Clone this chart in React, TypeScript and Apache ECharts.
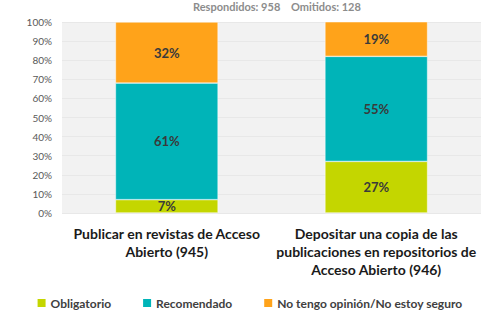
import React, { useEffect, useRef } from "react";
import * as echarts from "echarts";

const categories = [
  "Publicar en revistas de Acceso\nAbierto (945)",
  "Depositar una copia de las\npublicaciones en repositorios de\nAcceso Abierto (946)",
];
const obligatorio = [7, 27];
const recomendado = [61, 55];
const noTengo = [32, 19];
const yTicks = [0, 10, 20, 30, 40, 50, 60, 70, 80, 90, 100];

const FONT = "Lato, 'Open Sans', sans-serif";

export default function App() {
  const ref = useRef<HTMLDivElement>(null);
  useEffect(() => {
    const chart = echarts.init(ref.current!, null, { renderer: "svg" });
    const label = {
      show: true,
      position: "inside",
      formatter: "{c}%",
      color: "#3a3a3a",
      fontSize: 13,
      fontWeight: "bold",
      fontFamily: FONT,
    };
    const mk = (name: string, data: number[], color: string) => ({
      name,
      type: "bar",
      stack: "s",
      data,
      barWidth: "49%",
      itemStyle: { color, borderColor: "#ffffff", borderWidth: 0.5 },
      label,
    });
    chart.setOption({
      animation: false,
      title: {
        text: "Respondidos: 958    Omitidos: 128",
        left: 188,
        top: -4,
        textStyle: { color: "#8c8c8c", fontSize: 11, fontWeight: "bold", fontFamily: FONT },
      },
      grid: {
        left: 62,
        right: 19,
        top: 22,
        bottom: 107,
        show: true,
        backgroundColor: "#f2f2f2",
        borderWidth: 0,
      },
      legend: {
        top: 292,
        left: "center",
        itemWidth: 8,
        itemHeight: 8,
        itemGap: 32,
        itemStyle: { borderWidth: 0 },
        icon: "rect",
        textStyle: { color: "#404040", fontSize: 12, fontWeight: "bold", fontFamily: FONT },
        data: ["Obligatorio", "Recomendado", "No tengo opinión/No estoy seguro"],
      },
      xAxis: {
        type: "category",
        data: categories,
        axisLine: { show: false },
        axisTick: { show: false },
        axisLabel: {
          color: "#1a1a1a",
          fontSize: 14,
          fontWeight: "bold",
          fontFamily: FONT,
          lineHeight: 18,
          margin: 11,
          interval: 0,
        },
      },
      yAxis: {
        type: "value",
        min: yTicks[0],
        max: yTicks[yTicks.length - 1],
        interval: 10,
        axisLabel: { formatter: "{value}%", color: "#595959", fontSize: 10, fontFamily: FONT, margin: 10 },
        splitLine: { lineStyle: { color: "#e8e8e8", width: 1 } },
        axisLine: { show: false },
        axisTick: { show: false },
      },
      series: [
        mk("Obligatorio", obligatorio, "#c4d600"),
        mk("Recomendado", recomendado, "#00b4b8"),
        mk("No tengo opinión/No estoy seguro", noTengo, "#ffa31a"),
      ],
    });
    return () => chart.dispose();
  }, []);
  return (
    <div
      ref={ref}
      style={{ position: "absolute", left: 0, top: 0, width: 500, height: 320 }}
    />
  );
}
